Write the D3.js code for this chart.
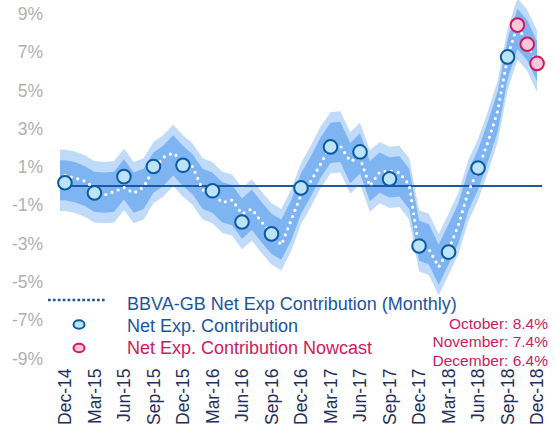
<!DOCTYPE html>
<html>
<head>
<meta charset="utf-8">
<script src="https://cdn.jsdelivr.net/npm/d3@7"></script>
<style>
  body { margin: 0; background: #fff; }
  svg { display: block; font-family: "Liberation Sans", Arial, sans-serif; }
</style>
</head>
<body>
<svg id="chart" width="555" height="432"></svg>
<script>
// monthly categories Dec-14 .. Dec-18
var months = ["Dec-14","Jan-15","Feb-15","Mar-15","Apr-15","May-15","Jun-15","Jul-15","Aug-15","Sep-15","Oct-15","Nov-15",
  "Dec-15","Jan-16","Feb-16","Mar-16","Apr-16","May-16","Jun-16","Jul-16","Aug-16","Sep-16","Oct-16","Nov-16",
  "Dec-16","Jan-17","Feb-17","Mar-17","Apr-17","May-17","Jun-17","Jul-17","Aug-17","Sep-17","Oct-17","Nov-17",
  "Dec-17","Jan-18","Feb-18","Mar-18","Apr-18","May-18","Jun-18","Jul-18","Aug-18","Sep-18","Oct-18","Nov-18","Dec-18"];

// tick labels (quarterly)
var tickLabels = ["Dec-14","Mar-15","Jun-15","Sep-15","Dec-15","Mar-16","Jun-16","Sep-16","Dec-16",
  "Mar-17","Jun-17","Sep-17","Dec-17","Mar-18","Jun-18","Sep-18","Dec-18"];
var yTicks = [9, 7, 5, 3, 1, -1, -3, -5, -7, -9];

// BBVA-GB monthly net exp contribution (white dotted line)
var monthly = [0.55, 0.42, 0.26, -0.1, -0.47, -0.3, -0.08, -0.37, -0.05, 0.84, 1.5, 1.72,
  1.3, 1.0, -0.2, -0.37, -0.87, -0.73, -1.45, -1.2, -1.88, -2.45, -3.08, -1.78,
  -0.47, 0.25, 1.15, 2.14, 2.09, 1.3, 1.46, 0.0, 0.73, 0.78, 0.7, 0.05,
  -3.24, -3.3, -4.23, -3.34, -2.04, -0.31, 0.84, 2.3, 3.92, 6.74, 8.4, 7.4, 6.4];

// centre of the uncertainty bands
var bandMid = [0.3, 0.2, 0.0, -0.3, -0.35, -0.3, 0.35, -0.35, -0.15, 0.7, 1.05, 1.6,
  1.05, 0.6, -0.15, -0.35, -0.85, -1.0, -1.7, -1.25, -1.9, -2.5, -2.8, -1.8,
  -0.4, 0.5, 1.5, 2.25, 2.3, 1.2, 1.7, 0.25, 0.7, 0.45, 0.5, -0.15,
  -2.85, -3.05, -4.1, -3.05, -1.95, -0.25, 0.85, 2.3, 3.9, 6.6, 8.2, 7.6, 6.5];
var innerSpread = 1.05;
var outerSpread = 1.6;

// quarterly actual contribution
var quarterMonths = ["Dec-14","Mar-15","Jun-15","Sep-15","Dec-15","Mar-16","Jun-16","Sep-16",
  "Dec-16","Mar-17","Jun-17","Sep-17","Dec-17","Mar-18","Jun-18","Sep-18"];
var quarterly = [0.17, -0.36, 0.49, 1.02, 1.08, -0.25, -1.88, -2.5, -0.1, 2.04, 1.78, 0.37, -3.13, -3.45, 0.94, 6.74];

// nowcast
var nowcastMonths = ["Oct-18","Nov-18","Dec-18"];
var nowcast = [8.4, 7.4, 6.4];
var nowcastNotes = ["October: 8.4%", "November: 7.4%", "December: 6.4%"];

var svg = d3.select("#chart");
var plotLeft = 60, plotRight = 542;

var x = d3.scalePoint().domain(months).range([plotLeft, plotRight]).padding(0.5);
var y = d3.scaleLinear().domain([-9, 9]).range([358.4, 13.6]);

// bands
var bandPts = bandMid.map(function(v, i) { return {x: x(months[i]), v: v}; });
bandPts.unshift({x: plotLeft, v: bandMid[0]});

function band(spread) {
  return d3.area()
    .x(function(d) { return d.x; })
    .y0(function(d) { return y(d.v - spread); })
    .y1(function(d) { return y(d.v + spread); });
}
svg.append("path").datum(bandPts).attr("d", band(outerSpread)).attr("fill", "#c0daf9");
svg.append("path").datum(bandPts).attr("d", band(innerSpread)).attr("fill", "#7fb4f2");

// zero line
svg.append("line")
  .attr("x1", plotLeft).attr("x2", plotRight)
  .attr("y1", y(0)).attr("y2", y(0))
  .attr("stroke", "#1a5aa6").attr("stroke-width", 2);

// monthly dotted line
var line = d3.line()
  .x(function(d, i) { return x(months[i]); })
  .y(function(d) { return y(d); });
svg.append("path").datum(monthly)
  .attr("d", line)
  .attr("fill", "none")
  .attr("stroke", "#fff")
  .attr("stroke-width", 3.2)
  .attr("stroke-linecap", "round")
  .attr("stroke-dasharray", "0,6.6");

// quarterly circles
svg.selectAll("circle.q")
  .data(quarterly)
  .enter().append("circle")
  .attr("class", "q")
  .attr("cx", function(d, i) { return x(quarterMonths[i]); })
  .attr("cy", function(d) { return y(d); })
  .attr("r", 6.8)
  .attr("fill", "#bde3f6")
  .attr("stroke", "#0b5aa2")
  .attr("stroke-width", 2);

// nowcast circles
svg.selectAll("circle.n")
  .data(nowcast)
  .enter().append("circle")
  .attr("class", "n")
  .attr("cx", function(d, i) { return x(nowcastMonths[i]); })
  .attr("cy", function(d) { return y(d); })
  .attr("r", 6.8)
  .attr("fill", "#f7c8d9")
  .attr("stroke", "#d3175c")
  .attr("stroke-width", 2);

// y tick labels
svg.selectAll("text.yt")
  .data(yTicks)
  .enter().append("text")
  .attr("class", "yt")
  .attr("x", 43)
  .attr("y", function(d) { return y(d); })
  .attr("dy", ".36em")
  .attr("text-anchor", "end")
  .attr("fill", "#b0b0b0")
  .style("font-size", "17.5px")
  .text(function(d) { return d + "%"; });

// x tick labels
svg.selectAll("text.xt")
  .data(tickLabels)
  .enter().append("text")
  .attr("class", "xt")
  .attr("transform", function(d) { return "translate(" + x(d) + ",368.5) rotate(-90)"; })
  .attr("dy", ".36em")
  .attr("text-anchor", "end")
  .attr("fill", "#1f2f5c")
  .style("font-size", "17.5px")
  .text(function(d) { return d; });

// legend
var legend = svg.append("g");
legend.append("line")
  .attr("x1", 48).attr("x2", 105).attr("y1", 300).attr("y2", 300)
  .attr("stroke", "#1a56a0").attr("stroke-width", 2.6)
  .attr("stroke-dasharray", "2.7,2.2");
legend.append("ellipse")
  .attr("cx", 79).attr("cy", 324.5).attr("rx", 5.5).attr("ry", 4.2)
  .attr("fill", "#bde3f6").attr("stroke", "#0b5aa2").attr("stroke-width", 2);
legend.append("ellipse")
  .attr("cx", 79).attr("cy", 348).attr("rx", 5.5).attr("ry", 4.2)
  .attr("fill", "#f7c8d9").attr("stroke", "#d3175c").attr("stroke-width", 2);

var legendItems = [
  {label: "BBVA-GB Net Exp Contribution (Monthly)", color: "#1a56a0", y: 310},
  {label: "Net Exp. Contribution", color: "#1a56a0", y: 332},
  {label: "Net Exp. Contribution Nowcast", color: "#d0195e", y: 354}
];
legend.selectAll("text")
  .data(legendItems)
  .enter().append("text")
  .attr("x", 127)
  .attr("y", function(d) { return d.y; })
  .attr("fill", function(d) { return d.color; })
  .style("font-size", "18px")
  .text(function(d) { return d.label; });

// nowcast notes
svg.selectAll("text.note")
  .data(nowcastNotes)
  .enter().append("text")
  .attr("class", "note")
  .attr("x", 548)
  .attr("y", function(d, i) { return 328.8 + i * 18.6; })
  .attr("text-anchor", "end")
  .attr("fill", "#d0195e")
  .style("font-size", "15.5px")
  .text(function(d) { return d; });
</script>
</body>
</html>
